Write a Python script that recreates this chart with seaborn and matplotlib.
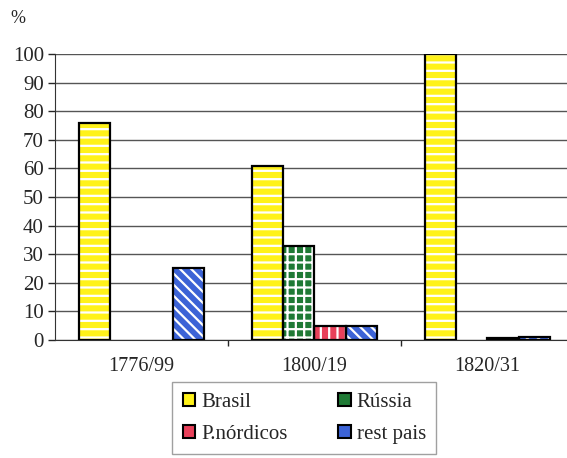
import pandas as pd
import numpy as np
import matplotlib.pyplot as plt
import seaborn as sns
from matplotlib.patches import Rectangle, Patch

periods = ["1776/99", "1800/19", "1820/31"]
series = ["Brasil", "Rússia", "P.nórdicos", "rest pais"]
brasil = [76, 61, 100]
russia = [0, 33, 0]
nordicos = [0, 5, 0.5]
rest = [25, 5, 1]

colors = ["#FFF21A", "#1F7A35", "#E8405A", "#3C63D6"]
hatches = ["--", "++", "||", "\\\\\\"]

df = pd.DataFrame({"periodo": periods * 4,
                   "serie": np.repeat(series, 3),
                   "valor": brasil + russia + nordicos + rest})

sns.set_style("white")
plt.rcParams["font.family"] = ["Liberation Serif", "DejaVu Serif"]
plt.rcParams["hatch.linewidth"] = 1.6

fig = plt.figure(figsize=(5.67, 4.58), dpi=100)
ax = fig.add_axes([0.097, 0.258, 0.903, 0.624])

sns.barplot(data=df, x="periodo", y="valor", hue="serie", hue_order=series,
            palette=colors, width=0.72, gap=0, saturation=1, legend=False, ax=ax)

# white hatch inside, black outline on top (skip empty bars)
for cont, h in zip(ax.containers, hatches):
    for bar in cont:
        bar.set_hatch(h)
        bar.set_edgecolor("white")
        bar.set_linewidth(0)
        if bar.get_height() > 0:
            ax.add_patch(Rectangle(bar.get_xy(), bar.get_width(), bar.get_height(),
                                   fill=False, edgecolor="black", linewidth=1.6, zorder=3))

ax.set_ylim(0, 100)
ax.set_xlim(-0.5, 2.46)
ax.set_yticks(range(0, 101, 10))
ax.yaxis.grid(True, color="#555555", linewidth=1.0)
ax.set_axisbelow(True)
for s in ["top", "right"]:
    ax.spines[s].set_visible(False)
ax.spines["left"].set_color("#333333")
ax.spines["bottom"].set_color("#333333")
ax.tick_params(axis="y", left=True, length=5, width=1, direction="out", labelsize=15, pad=3)
ax.set_xticks([0.5, 1.5], minor=True)
ax.tick_params(axis="x", which="major", bottom=False, labelsize=14.5, pad=9)
ax.tick_params(axis="x", which="minor", bottom=True, length=4, width=1, direction="out")
ax.set_xlabel("")
ax.set_ylabel("")
fig.text(0.018, 0.96, "%", fontsize=13, ha="left", va="center")

handles = [Patch(facecolor=c, edgecolor="black", linewidth=1.5) for c in colors]
order = [0, 2, 1, 3]
leg = fig.legend([handles[i] for i in order], [series[i] for i in order],
                 ncol=2, loc="center", bbox_to_anchor=(0.537, 0.087),
                 prop={"family": "Liberation Serif", "size": 15},
                 frameon=True, fancybox=False, edgecolor="#888888",
                 handlelength=0.6, handleheight=0.6, handletextpad=0.3,
                 columnspacing=2.4, labelspacing=0.62, borderpad=0.5, borderaxespad=0)
leg.get_frame().set_linewidth(1.0)

fig.savefig("out.png", dpi=100)
